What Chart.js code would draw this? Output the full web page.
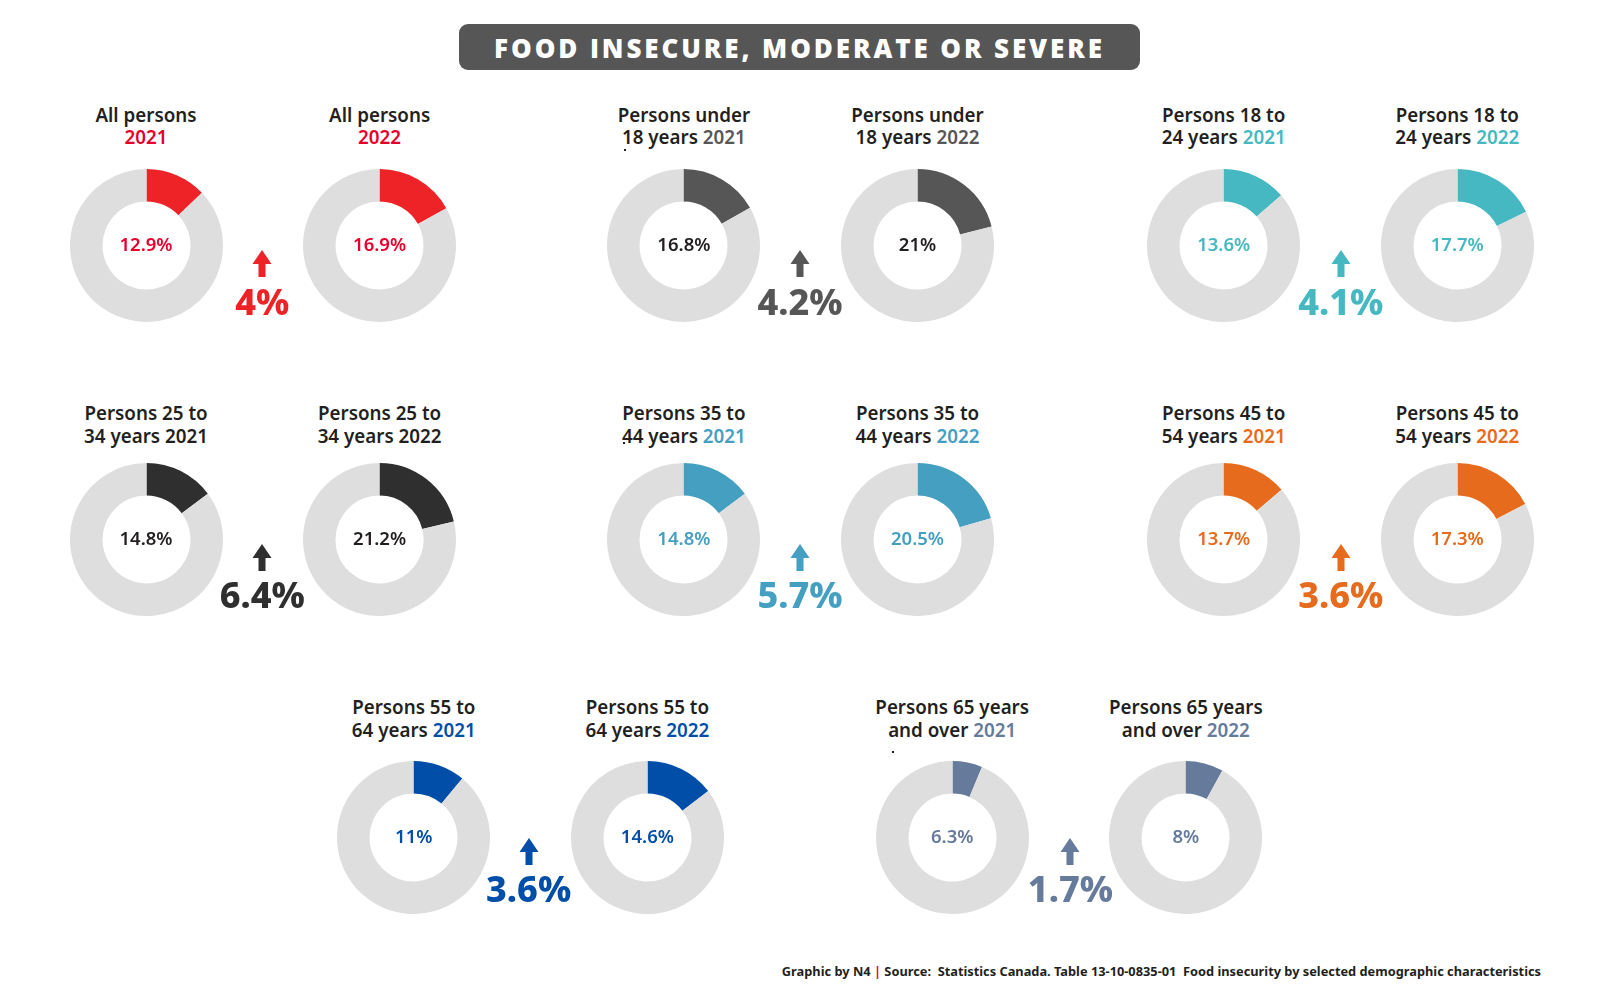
<!DOCTYPE html>
<html>
<head>
<meta charset="utf-8">
<title>Food insecure, moderate or severe</title>
<script src="https://cdn.jsdelivr.net/npm/chart.js@4"></script>
<style>
html, body { margin: 0; padding: 0; background: #fff; }
#page { position: relative; width: 1600px; height: 998px; overflow: hidden; font-family: "Noto Sans", sans-serif; color: #231f20; }
#page canvas { position: absolute; }
.title { position: absolute; width: 681px; height: 46px; line-height: 48px; background: #565657; border-radius: 9px; color: #fff; text-align: center; font-weight: 800; font-size: 26px; letter-spacing: 2.9px; font-family: "Open Sans", sans-serif; }
.head { position: absolute; width: 220px; text-align: center; font-size: 18.8px; line-height: 22.5px; font-weight: 600; white-space: pre; }
.value { position: absolute; width: 80px; text-align: center; font-size: 18.5px; line-height: 20px; font-weight: 600; }
.delta { position: absolute; width: 120px; text-align: center; font-size: 36px; line-height: 40px; font-weight: 800; }
.arrow { position: absolute; width: 20px; height: 27px; }
.foot { position: absolute; width: 781px; text-align: right; font-size: 12.8px; line-height: 18px; font-weight: 700; white-space: pre; }
.speck { position: absolute; width: 1.5px; height: 1.5px; background: #231f20; }
</style>
</head>
<body>
<div id="page"></div>
<script>
var titleText = "FOOD INSECURE, MODERATE OR SEVERE";
var firstLines = ["All persons", "Persons under", "Persons 18 to", "Persons 25 to", "Persons 35 to", "Persons 45 to", "Persons 55 to", "Persons 65 years"];
var secondLines = ["", "18 years", "24 years", "34 years", "44 years", "54 years", "64 years", "and over"];
var values2021 = [12.9, 16.8, 13.6, 14.8, 14.8, 13.7, 11, 6.3];
var values2022 = [16.9, 21, 17.7, 21.2, 20.5, 17.3, 14.6, 8];
var changes = ["4%", "4.2%", "4.1%", "6.4%", "5.7%", "3.6%", "3.6%", "1.7%"];

// styling per group
var sliceColors = ["#ed2328", "#565657", "#45b8c1", "#2f2f2f", "#459fc1", "#e66b1c", "#004ea8", "#667a9c"];
var textColors = ["#e4002b", "#565657", "#45b8c1", "#231f20", "#459fc1", "#e66b1c", "#004ea8", "#667a9c"];
var valueColors = ["#e4002b", "#231f20", "#45b8c1", "#231f20", "#459fc1", "#e66b1c", "#004ea8", "#667a9c"];
var groupX = [146, 683.9, 1223.7, 146, 683.9, 1223.7, 413.8, 952.2];
var groupY = [245, 245, 245, 539.5, 539.5, 539.5, 837, 837];
var headY = [103.5, 103.5, 103.5, 402, 402, 402, 696, 696];
var arrowX = [262.2, 800, 1340.8, 262.2, 800, 1340.8, 528.6, 1070.4];
var arrowDY = [5, 5, 5, 4, 4, 4, 1, 1];
var deltaDY = [37, 37, 37, 35, 35, 35, 32, 32];
var pairGap = 233.6;
var donutSize = 153;

var page = document.getElementById("page");

function addText(cls, left, top, html, color) {
    var d = document.createElement("div");
    d.className = cls;
    d.style.left = left + "px";
    d.style.top = top + "px";
    if (color) d.style.color = color;
    d.innerHTML = html;
    page.appendChild(d);
    return d;
}

function addDonut(cx, cy, value, color) {
    var c = document.createElement("canvas");
    c.style.left = (cx - donutSize / 2) + "px";
    c.style.top = (cy - donutSize / 2) + "px";
    c.style.width = donutSize + "px";
    c.style.height = donutSize + "px";
    c.width = donutSize;
    c.height = donutSize;
    page.appendChild(c);
    new Chart(c.getContext("2d"), {
        type: "doughnut",
        data: {
            labels: ["Food insecure", "Other"],
            datasets: [{
                data: [value, 100 - value],
                backgroundColor: [color, "#dedede"],
                borderWidth: 0
            }]
        },
        options: {
            responsive: false,
            animation: false,
            cutout: "57.5%",
            plugins: { legend: { display: false }, tooltip: { enabled: false } }
        }
    });
}

function addArrow(cx, top, color) {
    var svg = '<svg class="arrow" style="left:' + (cx - 10) + 'px;top:' + top + 'px" viewBox="0 0 20 27">' +
        '<polygon fill="' + color + '" points="10,0 19.5,14 13.5,14 13.5,27 6.5,27 6.5,14 0.5,14"/></svg>';
    page.insertAdjacentHTML("beforeend", svg);
}

addText("title", 459, 24, titleText);

firstLines.forEach(function (line, i) {
    var x1 = groupX[i], x2 = groupX[i] + pairGap, y = groupY[i];
    var sep = secondLines[i] ? secondLines[i] + " " : "";
    [[x1, "2021", values2021[i]], [x2, "2022", values2022[i]]].forEach(function (p) {
        addText("head", p[0] - 110, headY[i], line + "\n" + sep + '<span style="color:' + textColors[i] + '">' + p[1] + "</span>");
        addDonut(p[0], y, p[2], sliceColors[i]);
        addText("value", p[0] - 40, y - 11.5, p[2] + "%", valueColors[i]);
    });
    addArrow(arrowX[i], y + arrowDY[i], sliceColors[i]);
    addText("delta", arrowX[i] - 60, y + deltaDY[i], changes[i], sliceColors[i]);
});

addText("foot", 760, 962, 'Graphic by N4 <span style="color:#e4002b">|</span> Source:  Statistics Canada. Table 13-10-0835-01  Food insecurity by selected demographic characteristics');
addText("speck", 624, 149, "");
addText("speck", 623, 442, "");
addText("speck", 892, 751, "");
</script>
</body>
</html>
